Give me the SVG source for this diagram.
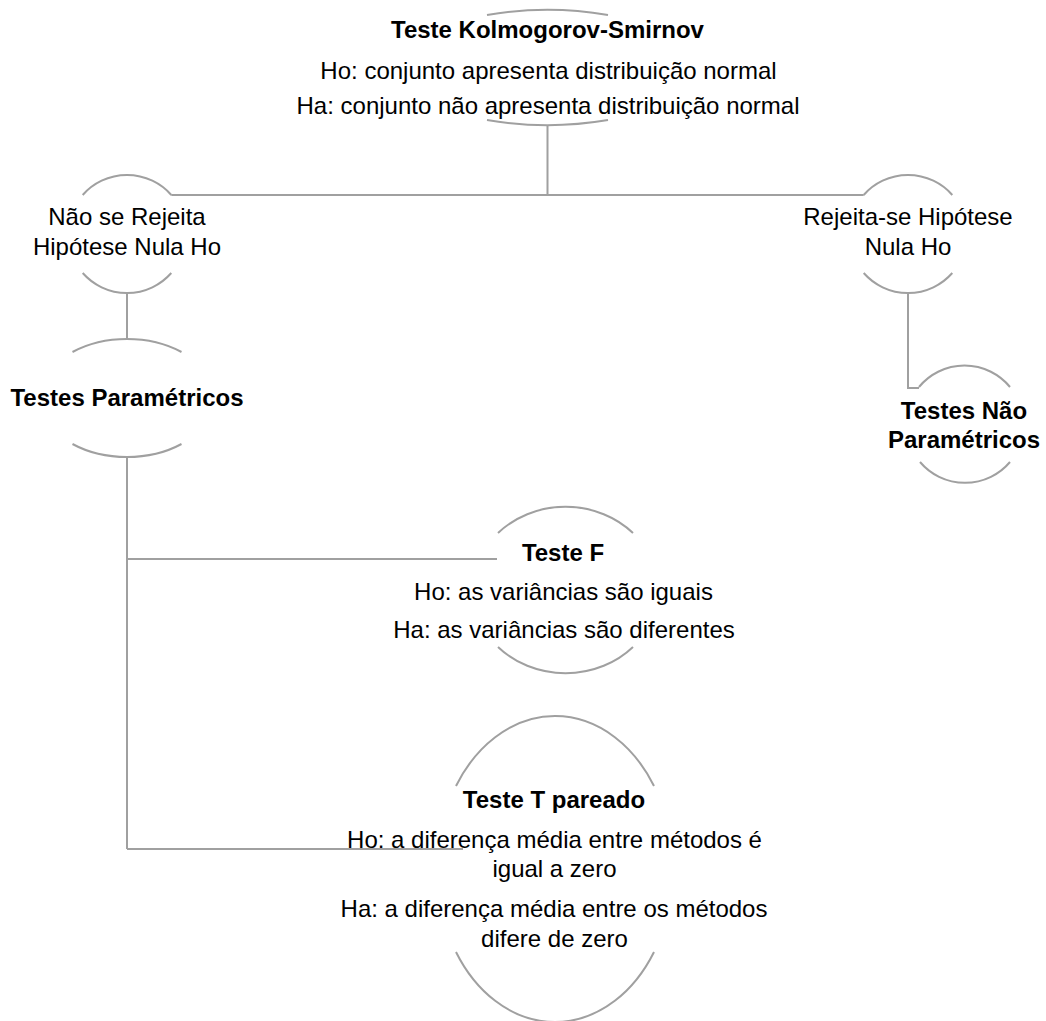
<svg xmlns="http://www.w3.org/2000/svg" width="1046" height="1021" viewBox="0 0 1046 1021">
<style>
.arc{fill:none;stroke:#a0a0a0;stroke-width:2}
.con{fill:none;stroke:#a0a0a0;stroke-width:2}
text{font-family:"Liberation Sans",Arial,sans-serif;font-size:24px;fill:#000;text-anchor:middle}
.b{font-weight:bold}
</style>
<rect width="1046" height="1021" fill="#fff"/>
<g id="connectors">
<path class="con" d="M547.5 126 V195 M171.3 195 H863.7"/>
<path class="con" d="M127 293 V339"/>
<path class="con" d="M908 293 V388 H919"/>
<path class="con" d="M127 457 V849"/>
<path class="con" d="M127 559 H497"/>
<path class="con" d="M127 849 H463"/>
</g>
<g id="node-ks">
<path class="arc" d="M487 15 A150 58 0 0 1 608 15"/>
<path class="arc" d="M608 120 A150 58 0 0 1 487 120"/>
<text class="b" x="547.5" y="38">Teste Kolmogorov-Smirnov</text>
<text x="548.5" y="79">Ho: conjunto apresenta distribuição normal</text>
<text x="548" y="114">Ha: conjunto não apresenta distribuição normal</text>
</g>
<g id="node-nao-rejeita">
<path class="arc" d="M82.7 195 A59 59 0 0 1 171.3 195"/>
<path class="arc" d="M171.3 273 A59 59 0 0 1 82.7 273"/>
<text x="127" y="225">Não se Rejeita</text>
<text x="127" y="255">Hipótese Nula Ho</text>
</g>
<g id="node-rejeita">
<path class="arc" d="M863.7 195 A59 59 0 0 1 952.3 195"/>
<path class="arc" d="M952.3 273 A59 59 0 0 1 863.7 273"/>
<text x="908" y="225">Rejeita-se Hipótese</text>
<text x="908" y="255">Nula Ho</text>
</g>
<g id="node-parametricos">
<path class="arc" d="M72.5 352 A87 59 0 0 1 181.5 352"/>
<path class="arc" d="M181.5 444 A87 59 0 0 1 72.5 444"/>
<text class="b" x="127" y="406">Testes Paramétricos</text>
</g>
<g id="node-nao-parametricos">
<path class="arc" d="M919 387 A59 59 0 0 1 1010 387"/>
<path class="arc" d="M1010 462 A59 59 0 0 1 920 462"/>
<text class="b" x="964" y="419">Testes Não</text>
<text class="b" x="964" y="448">Paramétricos</text>
</g>
<g id="node-teste-f">
<path class="arc" d="M498 533 A93 84 0 0 1 633 533"/>
<path class="arc" d="M633 647 A93 84 0 0 1 498 647"/>
<text class="b" x="563" y="561">Teste F</text>
<text x="563.5" y="600">Ho: as variâncias são iguais</text>
<text x="564" y="638">Ha: as variâncias são diferentes</text>
</g>
<g id="node-teste-t">
<path class="arc" d="M456 786 A117.6 152 0 0 1 654 786"/>
<path class="arc" d="M654 952 A117.6 152 0 0 1 456 952"/>
<text class="b" x="554" y="808">Teste T pareado</text>
<text x="554.5" y="848">Ho: a diferença média entre métodos é</text>
<text x="554.5" y="877">igual a zero</text>
<text x="554" y="917">Ha: a diferença média entre os métodos</text>
<text x="554.5" y="947">difere de zero</text>
</g>
</svg>
